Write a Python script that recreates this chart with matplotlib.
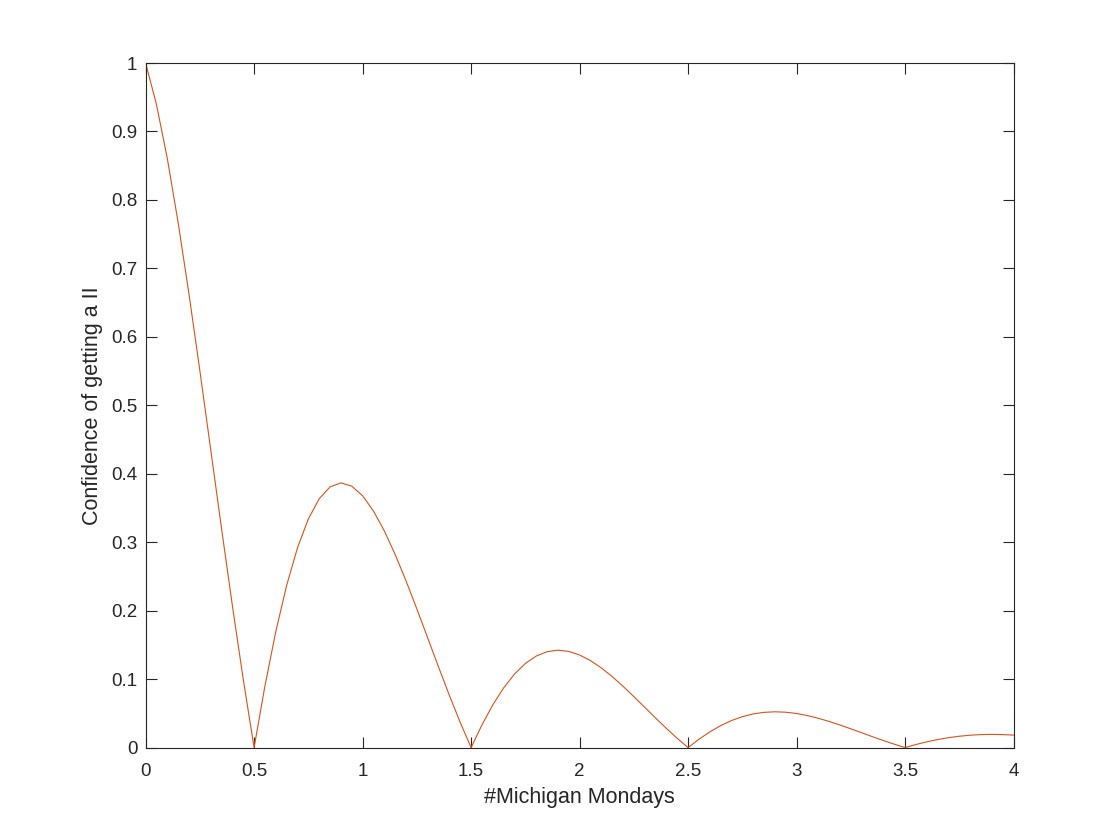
import matplotlib
matplotlib.use("Agg")
import matplotlib.pyplot as plt
import numpy as np

x_values = [i * 0.05 for i in range(81)]
confidence = [
    1.0000, 0.9395, 0.8606, 0.7669, 0.6623, 0.5507, 0.4354, 0.3199, 0.2071, 0.0997,
    0.0000, 0.0902, 0.1696, 0.2370, 0.2919, 0.3340, 0.3635, 0.3808, 0.3867, 0.3819,
    0.3679, 0.3456, 0.3166, 0.2821, 0.2437, 0.2026, 0.1602, 0.1177, 0.0762, 0.0367,
    0.0000, 0.0332, 0.0624, 0.0872, 0.1074, 0.1229, 0.1337, 0.1401, 0.1423, 0.1405,
    0.1353, 0.1271, 0.1164, 0.1038, 0.0896, 0.0745, 0.0589, 0.0433, 0.0280, 0.0135,
    0.0000, 0.0122, 0.0229, 0.0321, 0.0395, 0.0452, 0.0492, 0.0515, 0.0523, 0.0517,
    0.0498, 0.0468, 0.0428, 0.0382, 0.0330, 0.0274, 0.0217, 0.0159, 0.0103, 0.0050,
    0.0000, 0.0045, 0.0084, 0.0118, 0.0145, 0.0166, 0.0181, 0.0190, 0.0193, 0.0190,
    0.0183,
]
x_ticks = [0, 0.5, 1, 1.5, 2, 2.5, 3, 3.5, 4]
x_ticklabels = ["0", "0.5", "1", "1.5", "2", "2.5", "3", "3.5", "4"]
y_ticks = [0, 0.1, 0.2, 0.3, 0.4, 0.5, 0.6, 0.7, 0.8, 0.9, 1]
y_ticklabels = ["0", "0.1", "0.2", "0.3", "0.4", "0.5", "0.6", "0.7", "0.8", "0.9", "1"]

plt.rcParams['font.family'] = ['Liberation Sans', 'DejaVu Sans']

fig = plt.figure(figsize=(11.2, 8.4), dpi=100)
ax = fig.add_axes([0.13, 0.11, 0.775, 0.815])
ax.plot(x_values, confidence, color=(0.85, 0.325, 0.098), linewidth=0.8)
ax.set_xlim(0, 4)
ax.set_ylim(0, 1)
ax.set_xticks(x_ticks)
ax.set_xticklabels(x_ticklabels)
ax.set_yticks(y_ticks)
ax.set_yticklabels(y_ticklabels)
ax.tick_params(direction='in', length=8, width=0.8, top=True, right=True,
               labelsize=13.5, colors='#262626')
ax.tick_params(axis='x', pad=11)
ax.tick_params(axis='y', pad=6)
for s in ax.spines.values():
    s.set_color('#262626')
    s.set_linewidth(0.8)
ax.set_xlabel("#Michigan Mondays", fontsize=15.5, color='#262626', labelpad=5)
ax.set_ylabel("Confidence of getting a II", fontsize=15.5, color='#262626', labelpad=6)
fig.savefig("out.png", dpi=100)
